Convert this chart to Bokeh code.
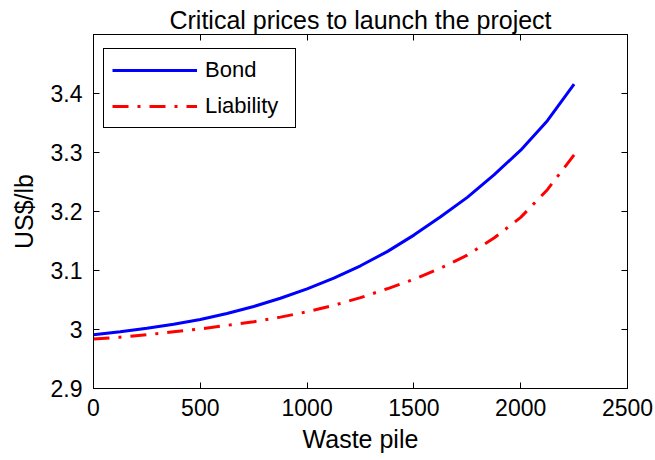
from bokeh.plotting import figure
from bokeh.models import (LinearAxis, FixedTicker, CustomJSTickFormatter, Legend,
                          LegendItem, Range1d)
from bokeh.embed import file_html
from bokeh.resources import INLINE

# ---- data ----
waste_pile = [0, 125, 250, 375, 500, 625, 750, 875, 1000, 1125, 1250,
              1375, 1500, 1625, 1750, 1875, 2000, 2125, 2250]
bond = [2.991, 2.996, 3.002, 3.009, 3.017, 3.027, 3.039, 3.053, 3.069, 3.087,
        3.108, 3.132, 3.160, 3.191, 3.224, 3.262, 3.304, 3.354, 3.416]
liability = [2.984, 2.987, 2.991, 2.996, 3.001, 3.007, 3.013, 3.021, 3.030, 3.041,
             3.054, 3.069, 3.085, 3.104, 3.126, 3.155, 3.190, 3.237, 3.296]
x_ticks = [0, 500, 1000, 1500, 2000, 2500]
y_ticks = [2.9, 3.0, 3.1, 3.2, 3.3, 3.4]
series_names = ["Bond", "Liability"]
title_text = "Critical prices to launch the project"
x_label = "Waste pile"
y_label = "US$/lb"

FONT = "Liberation Sans"

p = figure(width=655, height=460, output_backend="svg", toolbar_location=None,
           x_range=Range1d(0, 2500), y_range=Range1d(2.9, 3.5),
           min_border_left=93, min_border_right=28, min_border_top=34,
           min_border_bottom=72, title=title_text,
           background_fill_color="white", border_fill_color="white")

p.xgrid.grid_line_color = None
p.ygrid.grid_line_color = None
p.outline_line_color = "black"
p.outline_line_alpha = 1
p.outline_line_width = 1

p.title.text_font = FONT
p.title.text_font_size = "25px"
p.title.text_font_style = "normal"
p.title.text_color = "black"
p.title.align = "center"
p.title.standoff = 1
p.title.offset = 0

yfmt = CustomJSTickFormatter(code="return String(Math.round(tick*10)/10);")


def style_axis(ax, labels=True):
    ax.axis_line_color = "black"
    ax.axis_line_width = 1
    ax.major_tick_in = 6
    ax.major_tick_out = 0
    ax.major_tick_line_color = "black"
    ax.minor_tick_line_color = None
    ax.major_label_text_font = FONT
    ax.major_label_text_color = "black"
    if labels:
        ax.major_label_text_font_size = "23px"
    else:
        ax.major_label_text_font_size = "0px"
        ax.major_label_standoff = 0
    ax.axis_label_text_font = FONT
    ax.axis_label_text_font_size = "25px"
    ax.axis_label_text_font_style = "normal"
    ax.axis_label_text_color = "black"


xa = p.xaxis[0]
xa.ticker = FixedTicker(ticks=x_ticks)
style_axis(xa)
xa.major_label_standoff = 10
xa.axis_label = x_label
xa.axis_label_standoff = 6

ya = p.yaxis[0]
ya.ticker = FixedTicker(ticks=y_ticks)
ya.formatter = yfmt
style_axis(ya)
ya.major_label_standoff = 11
ya.axis_label = y_label
ya.axis_label_standoff = 10

top = LinearAxis(ticker=FixedTicker(ticks=x_ticks))
style_axis(top, labels=False)
top.formatter = CustomJSTickFormatter(code="return '';")
p.add_layout(top, "above")

right = LinearAxis(ticker=FixedTicker(ticks=y_ticks))
style_axis(right, labels=False)
right.formatter = CustomJSTickFormatter(code="return '';")
p.add_layout(right, "right")

r1 = p.line(waste_pile, bond, line_color="#0000ff", line_width=3)
r2 = p.line(waste_pile, liability, line_color="#ff0000", line_width=3,
            line_dash="16 9 3 9")

legend = Legend(items=[LegendItem(label=series_names[0], renderers=[r1]),
                       LegendItem(label=series_names[1], renderers=[r2])],
                location=(10, 260), margin=0, padding=8, spacing=10,
                glyph_width=85, glyph_height=24, label_height=24,
                label_width=82, label_standoff=8,
                label_text_font=FONT, label_text_font_size="22px",
                label_text_color="black",
                border_line_color="black", border_line_width=1,
                border_line_alpha=1,
                background_fill_color="white", background_fill_alpha=1)
p.add_layout(legend)

open("out.html", "w").write(file_html(p, INLINE))
